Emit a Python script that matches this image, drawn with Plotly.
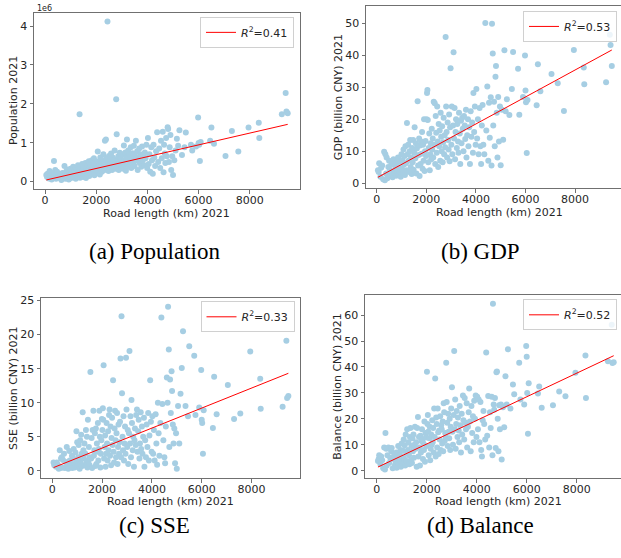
import plotly.graph_objects as go

W, H = 621, 558

# ---------------- data ----------------
road_length_km = [
    50, 80, 100, 150, 180, 220, 260, 300, 330, 350, 380, 400, 430, 470, 500, 540, 580, 600,
    640, 680, 700, 730, 760, 790, 800, 830, 860, 880, 900, 930, 950, 970, 1000, 1020, 1040, 1060, 1080, 1100, 1120, 1140, 1160, 1180, 1200,
    1220, 1250, 1270, 1290, 1310, 1330, 1350, 1370, 1390, 1410, 1430, 1450, 1470, 1490, 1510, 1530, 1560, 1580, 1600, 1620,
    1650, 1670, 1690, 1710, 1730, 1750, 1770, 1790, 1810, 1830, 1850, 1870, 1890, 1910, 1930, 1950, 1970, 1990,
    2010, 2030, 2045, 2060, 2080, 2100, 2120, 2140, 2160, 2180, 2200, 2220, 2240, 2260, 2280, 2300, 2320, 2340, 2360, 2380,
    2400, 2420, 2440, 2460, 2480, 2500, 2520, 2540, 2560, 2580, 2600, 2620, 2640, 2660, 2680, 2700, 2720, 2740, 2760, 2780,
    2800, 2820, 2840, 2860, 2880, 2900, 2920, 2940, 2960, 2980,
    3010, 3030, 3050, 3080, 3100, 3120, 3140, 3160, 3180, 3200, 3230, 3250, 3280, 3300, 3320, 3350, 3370, 3400, 3420, 3450,
    3470, 3500, 3520, 3550, 3570, 3600, 3620, 3650, 3680, 3700, 3730, 3760, 3790, 3820, 3850, 3880, 3900, 3930, 3960, 3990,
    4020, 4050, 4080, 4110, 4150, 4180, 4210, 4240, 4270, 4300, 4340, 4380, 4420, 4460, 4500, 4530, 4560, 4600, 4630, 4650,
    4680, 4700, 4730, 4760, 4790, 4810, 4840, 4870, 4900, 4930, 4970, 5000,
    5050, 5100, 5150, 5200, 5250, 5350, 5450, 5500, 5700, 5750, 5900, 5980, 6000, 6020, 6050, 6080, 6450, 6500, 6600,
    7050, 7300, 7550, 7950, 8350, 8370, 9250, 9400, 9430, 9480,
]

population_1e6 = [
    0.17, 0.12, 0.20, 0.08, 0.27, 0.15, 0.05, 0.10, 0.22, 0.53, 0.18, 0.30, 0.07, 0.25, 0.12, 0.20, 0.09, 0.16,
    0.04, 0.22, 0.14, 0.10, 0.40, 0.19, 0.07, 0.26, 0.12, 0.31, 0.17, 0.05, 0.23, 0.13, 0.33, 0.09, 0.20, 0.28, 0.15, 0.38, 0.11, 0.24, 0.19, 0.35, 0.07,
    0.30, 0.22, 0.13, 0.42, 0.18, 0.26, 1.73, 0.10, 0.34, 0.21, 0.15, 0.45, 0.28, 0.12, 0.36, 0.19, 0.25, 0.48, 0.09, 0.32,
    0.40, 0.17, 0.29, 0.52, 0.14, 0.37, 0.23, 0.44, 0.31, 0.55, 0.20, 0.38, 0.27, 0.60, 0.16, 0.42, 0.33, 0.50,
    0.45, 0.28, 0.36, 0.77, 0.22, 0.52, 0.40, 0.18, 0.62, 0.33, 0.47, 0.25, 0.55, 0.38, 0.70, 0.29, 0.50, 1.05, 0.43, 1.08,
    0.60, 0.34, 4.12, 0.52, 0.27, 0.66, 0.41, 0.58, 0.36, 0.72, 0.48, 0.30, 0.62, 0.44, 0.55, 0.38, 0.80, 0.49, 0.33, 2.12,
    1.22, 0.57, 0.42, 0.65, 0.30, 0.52, 0.74, 0.45, 0.60, 0.36,
    0.48, 0.70, 0.33, 0.93, 0.55, 0.42, 0.75, 0.28, 0.62, 1.08, 0.45, 0.80, 0.38, 0.68, 0.52, 0.88, 0.35, 0.60, 0.73, 0.47,
    0.92, 0.40, 0.65, 1.05, 0.55, 0.78, 0.30, 0.62, 0.85, 0.48, 0.70, 0.38, 0.90, 0.55, 0.68, 0.42, 0.75, 0.60, 0.95, 0.35,
    1.12, 0.45, 0.70, 0.25, 0.88, 0.55, 0.20, 0.95, 0.62, 0.40, 0.78, 1.27, 0.50, 0.85, 0.35, 1.05, 0.60, 1.28, 0.24, 0.95,
    0.72, 0.48, 1.12, 0.65, 1.40, 1.35, 0.50, 0.88, 1.20, 0.30, 0.65, 0.17,
    0.55, 0.80, 1.10, 0.92, 1.32, 0.68, 0.88, 1.26, 0.95, 0.80, 0.90, 1.65, 0.99, 0.95, 0.53, 1.02, 1.05, 1.39, 0.97,
    0.66, 1.30, 0.77, 1.39, 1.51, 1.12, 1.73, 2.28, 1.80, 1.76,
]

gdp_billion_cny = [
    4.0, 3.5, 6.2, 2.0, 4.8, 5.5, 1.2, 9.8, 0.9, 9.0, 3.0, 8.0, 1.5, 5.0, 7.0, 4.2, 2.5, 6.0,
    1.8, 7.5, 3.2, 5.5, 4.0, 2.3, 6.5, 3.8, 8.0, 2.7, 5.0, 3.5, 6.8, 2.0, 9.0, 4.5, 7.2, 3.0, 10.5, 5.8, 8.5, 2.5, 11.5, 6.2, 4.0,
    18.8, 9.0, 12.0, 7.0, 3.5, 10.0, 13.5, 5.0, 8.0, 2.8, 11.0, 6.5, 13.5, 4.2, 9.5, 17.5, 7.8, 12.5, 3.0, 10.8,
    25.6, 5.5, 8.8, 14.0, 2.2, 11.8, 6.0, 13.0, 9.2, 16.0, 4.5, 12.0, 7.0, 20.0, 3.8, 10.0, 13.2, 8.5,
    20.0, 28.2, 29.2, 19.8, 6.5, 11.0, 15.5, 4.0, 9.0, 12.5, 7.5, 17.0, 10.5, 14.0, 8.0, 25.5, 12.0, 25.0, 6.0, 21.0,
    15.8, 9.5, 24.0, 13.0, 5.0, 18.5, 11.5, 16.5, 7.0, 22.0, 14.5, 10.0, 17.8, 6.5, 12.8, 20.5, 9.0, 15.0, 11.2, 45.8,
    24.0, 16.0, 8.0, 19.0, 13.5, 10.5, 21.5, 6.8, 17.5, 36.0,
    12.0, 24.0, 9.0, 18.0, 41.0, 14.0, 23.5, 7.5, 16.0, 20.0, 11.0, 18.5, 13.0, 9.5, 22.0, 15.5, 6.0, 19.5, 12.5, 20.5,
    17.0, 10.0, 21.0, 18.0, 13.8, 23.0, 8.0, 15.0, 20.0, 11.5, 17.5, 6.0, 22.5, 14.5, 19.0, 9.5, 28.2, 16.0, 24.0, 12.0,
    29.5, 14.0, 20.0, 9.0, 23.5, 11.5, 6.0, 18.0, 24.5, 12.0, 9.0, 50.2, 16.5, 30.3, 7.0, 25.2, 14.2, 26.9, 5.5, 49.9,
    40.6, 18.0, 25.5, 11.5, 33.3, 36.7, 22.0, 8.0, 27.0, 13.0, 24.0, 5.6,
    23.0, 13.6, 41.6, 22.5, 26.3, 21.3, 29.5, 41.1, 35.8, 21.4, 27.0, 40.0, 29.0, 25.3, 9.4, 26.0, 24.4, 37.2, 28.8,
    34.2, 31.3, 22.6, 41.7, 36.2, 31.0, 31.6, 46.5, 43.3, 36.7,
]

sse_billion_cny = [
    1.2, 0.8, 1.1, 0.6, 1.2, 0.9, 0.3, 3.0, 0.4, 1.8, 2.0, 0.5, 1.6, 2.5, 0.4, 1.3, 3.5, 0.8,
    0.3, 2.9, 1.5, 0.6, 1.0, 2.2, 0.4, 1.8, 3.2, 0.9, 0.5, 2.7, 1.2, 5.8, 4.2, 0.8, 2.0, 3.8, 1.5, 0.3, 4.5, 1.1, 5.3, 2.5, 0.7,
    8.6, 3.0, 1.8, 4.0, 0.8, 2.5, 6.0, 1.2, 5.0, 0.5, 7.5, 1.5, 3.5, 0.9, 2.0, 14.5, 1.8, 4.8, 0.4, 6.0,
    8.8, 2.2, 3.0, 5.5, 0.7, 6.2, 1.0, 4.0, 2.8, 7.0, 1.5, 3.2, 8.8, 5.0, 0.5, 2.5, 4.5, 7.6,
    6.0, 9.2, 7.5, 15.5, 1.8, 3.5, 5.2, 0.6, 2.5, 7.0, 4.0, 1.5, 5.8, 3.0, 8.2, 9.0, 2.2, 6.5, 0.8, 4.8,
    7.8, 3.8, 13.3, 2.8, 1.2, 6.2, 8.8, 4.5, 2.0, 5.5, 8.5, 1.0, 3.5, 6.8, 2.5, 4.2, 7.2, 16.5, 2.0, 22.7,
    11.4, 5.0, 3.0, 8.0, 1.5, 4.0, 6.5, 2.5, 16.6, 9.0,
    3.5, 6.0, 1.0, 5.5, 17.6, 4.0, 8.0, 2.0, 10.4, 7.0, 3.0, 5.0, 0.6, 4.5, 6.2, 3.8, 8.2, 9.0, 2.8, 5.8,
    7.5, 1.8, 4.0, 8.6, 3.2, 6.5, 2.5, 5.0, 7.8, 0.6, 4.5, 2.0, 6.8, 3.5, 8.5, 1.5, 5.2, 13.3, 7.2, 2.8,
    8.0, 2.5, 6.0, 1.5, 8.3, 4.0, 0.9, 10.0, 5.5, 2.2, 7.0, 22.5, 9.8, 4.5, 2.0, 1.1, 6.5, 13.7, 10.0, 24.1,
    17.8, 3.5, 13.4, 8.5, 14.6, 11.7, 6.8, 4.0, 6.2, 1.1, 5.5, 0.3,
    9.5, 4.0, 11.3, 15.1, 20.5, 9.5, 8.0, 18.3, 16.9, 8.2, 9.3, 14.8, 7.5, 7.0, 2.5, 8.9, 6.3, 13.8, 8.3,
    12.6, 7.6, 8.4, 17.5, 13.5, 9.1, 9.4, 19.1, 10.7, 11.0,
]

balance_billion_cny = [
    3.8, 4.5, 6.0, 2.5, 5.5, 4.0, 1.0, 9.0, 0.5, 14.5, 8.5, 2.0, 6.0, 9.0, 3.0, 5.0, 7.5, 8.8,
    1.0, 4.5, 6.5, 2.2, 3.5, 7.0, 1.2, 5.8, 9.5, 2.8, 4.0, 6.2, 8.0, 1.5, 10.5, 3.2, 7.8, 5.0, 12.0, 4.5, 9.8, 2.0, 14.0, 6.8, 3.8,
    16.0, 8.0, 11.0, 6.0, 2.5, 13.0, 16.5, 4.0, 9.5, 3.0, 12.5, 7.5, 14.0, 5.0, 10.0, 17.0, 8.5, 11.0, 1.5, 16.5,
    20.7, 5.5, 13.0, 9.0, 2.0, 13.5, 7.0, 11.5, 16.0, 12.0, 4.5, 10.5, 8.0, 19.0, 3.5, 14.5, 12.8, 9.5,
    38.2, 18.0, 21.5, 15.0, 6.0, 12.5, 17.0, 4.0, 8.5, 14.0, 10.0, 19.5, 11.0, 16.5, 7.0, 24.0, 13.0, 35.6, 5.5, 20.5,
    18.0, 9.0, 24.0, 14.8, 6.5, 15.5, 12.0, 21.0, 8.0, 17.5, 16.0, 10.5, 19.0, 7.5, 26.0, 22.5, 11.5, 14.5, 13.0, 41.6,
    26.5, 18.5, 9.5, 22.0, 15.0, 12.5, 20.0, 8.0, 17.0, 24.0,
    32.2, 15.0, 10.0, 21.5, 46.2, 16.0, 27.5, 8.5, 18.0, 23.0, 13.0, 20.5, 15.5, 11.0, 25.0, 17.5, 7.0, 22.0, 14.0, 29.0,
    19.5, 12.0, 28.0, 18.5, 16.0, 26.0, 9.0, 17.0, 22.5, 31.7, 19.0, 7.5, 25.0, 14.5, 21.0, 11.0, 27.0, 20.0, 29.0, 13.0,
    28.5, 16.0, 27.5, 11.0, 26.5, 8.0, 5.5, 19.5, 23.0, 18.0, 12.0, 45.6, 13.5, 28.8, 9.0, 22.5, 16.5, 28.5, 6.0, 64.4,
    25.5, 23.5, 28.0, 8.8, 38.0, 38.3, 20.0, 7.5, 25.2, 16.0, 25.5, 4.3,
    24.5, 16.8, 36.4, 25.5, 46.8, 24.0, 33.2, 29.5, 41.6, 27.5, 25.5, 48.1, 43.9, 30.0, 14.3, 33.7, 29.8, 32.5, 24.3,
    25.2, 30.5, 28.7, 37.8, 44.4, 28.0, 42.2, 56.3, 41.5, 41.8,
]

# fitted regression lines (intercept, slope) and R^2 as shown in the picture
fit_intercepts = [0.033, 1.6, 0.4, 1.2]
fit_slopes = [1.518e-4, 0.00423, 0.001468, 0.00455]
r2_labels = ["0.41", "0.53", "0.33", "0.52"]

y_titles = ["Population 2021", "GDP (billion CNY) 2021",
            "SSE (billion CNY) 2021", "Balance (billion CNY) 2021"]
captions = ["(a) Population", "(b) GDP", "(c) SSE", "(d) Balance"]
x_title = "Road length (km) 2021"
x_ticks = [0, 2000, 4000, 6000, 8000]
y_ticks = [[0, 1, 2, 3, 4], [0, 10, 20, 30, 40, 50],
           [0, 5, 10, 15, 20, 25], [0, 10, 20, 30, 40, 50, 60]]

series = [population_1e6, gdp_billion_cny, sse_billion_cny, balance_billion_cny]
for s in series:
    assert len(s) == len(road_length_km), len(s)

# ---------------- layout geometry (pixels) ----------------
boxes = [(34, 300, 10, 188), (366, 621, 3, 187), (41, 300, 297.5, 479.3), (365, 621, 295, 479.3)]
x_ranges = [(-430, 9960), (-431, 9851), (-454, 9948), (-468, 9772)]
y_ranges = [(-0.2, 4.34), (-1.65, 55.5), (-1.06, 25.4), (-2.8, 67.6)]
right_cut = [False, True, False, True]
xtitle_cx = [167, 499, 170.5, 498]
legend_pos = [(294, 14), (617, 8), (294.5, 301), (617, 299)]
caption_pos = [(154.5, 251), (480, 251), (154.5, 527), (480, 527)]
ytitle_x = [13, 338, 14, 338]

POINT = "#a6cee3"
AXC = "#707070"
TXT = "#262626"
FONT = "DejaVu Sans"

fig = go.Figure()
x_min, x_max = min(road_length_km), max(road_length_km)
annotations = []
layout = {}

for i in range(4):
    ax = "" if i == 0 else str(i + 1)
    lg = "legend" if i == 0 else "legend%d" % (i + 1)
    fig.add_trace(go.Scatter(
        x=road_length_km, y=series[i], mode="markers",
        marker=dict(color=POINT, size=6, line=dict(width=0)),
        xaxis="x" + ax, yaxis="y" + ax, showlegend=False, hoverinfo="skip"))
    fig.add_trace(go.Scatter(
        x=[x_min, x_max],
        y=[fit_intercepts[i] + fit_slopes[i] * x_min, fit_intercepts[i] + fit_slopes[i] * x_max],
        mode="lines", line=dict(color="red", width=1),
        name="<i>R</i><sup>2</sup>=" + r2_labels[i],
        xaxis="x" + ax, yaxis="y" + ax, showlegend=True, legend=lg))

    l, r, t, b = boxes[i]
    common = dict(showline=True, linecolor=AXC, linewidth=1, ticks="outside",
                  ticklen=3.5, tickwidth=1, tickcolor=AXC, showgrid=False,
                  zeroline=False, tickfont=dict(family=FONT, size=11, color=TXT))
    layout["xaxis" + ax] = dict(common, domain=[l / W, r / W], range=list(x_ranges[i]),
                                tickvals=x_ticks, anchor="y" + ax, mirror=True,
                                ticklabelstandoff=-3)
    layout["yaxis" + ax] = dict(common, domain=[1 - b / H, 1 - t / H], range=list(y_ranges[i]),
                                tickvals=y_ticks[i], anchor="x" + ax,
                                mirror=not right_cut[i])
    lx, ly = legend_pos[i]
    layout[lg] = dict(x=lx / W, y=1 - ly / H, xanchor="right", yanchor="top",
                      bgcolor="rgba(255,255,255,0.8)", bordercolor="#d0d0d0",
                      borderwidth=1, font=dict(family=FONT, size=11, color=TXT),
                      itemwidth=30, tracegroupgap=0)

    # axis titles
    annotations.append(dict(text=x_title, x=xtitle_cx[i] / W,
                            y=1 - (b + 24) / H, xref="paper", yref="paper",
                            showarrow=False, xanchor="center", yanchor="middle",
                            font=dict(family=FONT, size=11, color=TXT)))
    annotations.append(dict(text=y_titles[i], x=ytitle_x[i] / W, y=1 - (t + b) / 2 / H,
                            xref="paper", yref="paper", textangle=-90, showarrow=False,
                            xanchor="center", yanchor="middle",
                            font=dict(family=FONT, size=11, color=TXT)))
    cx, cy = caption_pos[i]
    annotations.append(dict(text=captions[i], x=cx / W, y=1 - cy / H, xref="paper", yref="paper",
                            showarrow=False, xanchor="center", yanchor="middle",
                            font=dict(family="Liberation Serif", size=23, color="black")))

annotations.append(dict(text="1e6", x=35 / W, y=1 - 5.5 / H, xref="paper", yref="paper",
                        showarrow=False, xanchor="left", yanchor="middle",
                        font=dict(family=FONT, size=8, color=TXT)))

fig.update_layout(width=W, height=H, margin=dict(l=0, r=0, t=0, b=0),
                  paper_bgcolor="white", plot_bgcolor="white",
                  annotations=annotations, **layout)

fig.write_html("out.html")
